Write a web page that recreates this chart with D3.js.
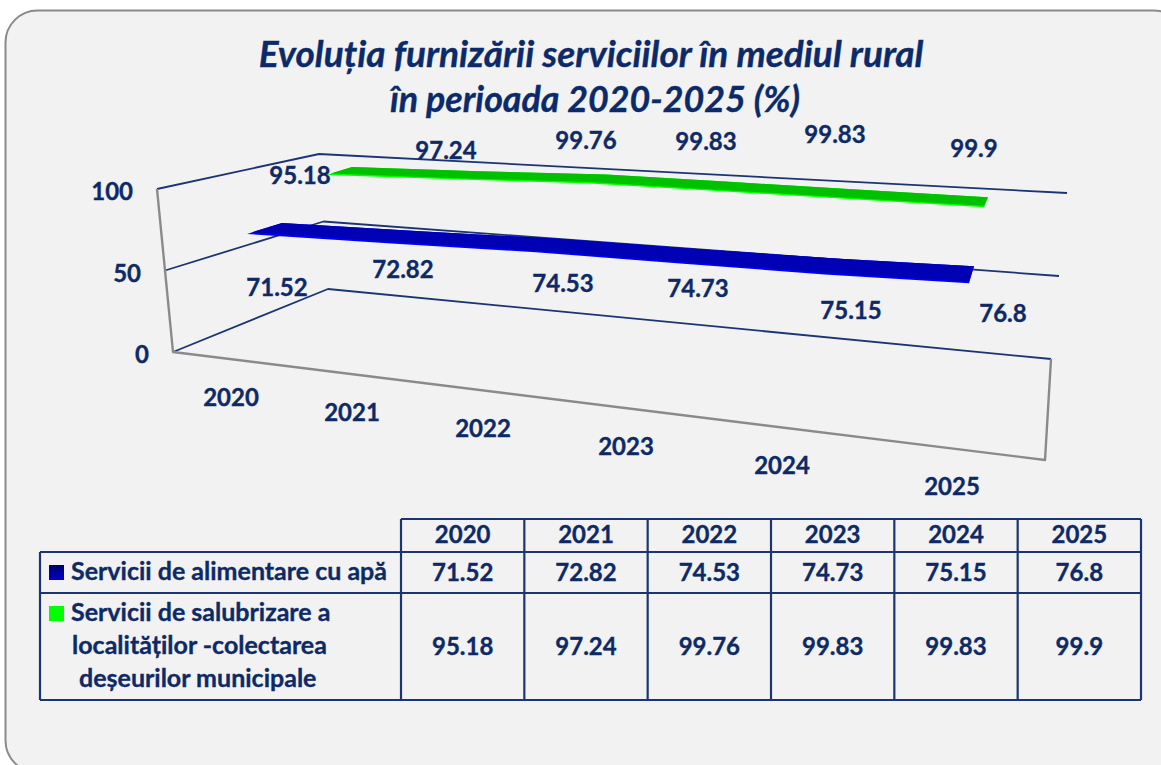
<!DOCTYPE html>
<html><head><meta charset="utf-8">
<script src="https://cdn.jsdelivr.net/npm/d3@7"></script>
<style>html,body{margin:0;padding:0;background:#fff;overflow:hidden}svg{display:block}text{font-family:Lato,"Open Sans",sans-serif;font-weight:700;fill:#0E2A66;stroke:#0E2A66;stroke-width:.35px}</style>
</head><body><svg id="c" width="1161" height="765"></svg>
<script>
// data
const categories = ["2020","2021","2022","2023","2024","2025"];
const seriesNames = ["Servicii de alimentare cu apă","Servicii de salubrizare a localităților -colectarea deșeurilor municipale"];
const waterValues = [71.52,72.82,74.53,74.73,75.15,76.8];
const wasteValues = [95.18,97.24,99.76,99.83,99.83,99.9];
const valueTicks = [0,50,100];
const titleLines = ["Evoluția furnizării serviciilor în mediul rural","în perioada 2020-2025 (%)"];
const wasteLabelLines = ["Servicii de salubrizare a","localităților -colectarea","deșeurilor municipale"];

// layout
const svg = d3.select("#c");
const NAVY = "#1B3572", GREY = "#8A8A8A", FS = 24, FSL = 25;
const idx = categories.map((_, i) => i);
const pct = d3.scaleLinear().domain([0,100]);

svg.append("rect").attr("x",5.5).attr("y",10.5).attr("width",1180).attr("height",762).attr("rx",32)
  .attr("fill","#F2F2F2").attr("stroke",GREY).attr("stroke-width",2);

// title
svg.selectAll("text.title").data(titleLines).join("text").attr("class","title")
  .attr("x",(d,i)=>[591,595][i]).attr("y",(d,i)=>[67,112][i]).attr("text-anchor","middle")
  .style("font-size",(d,i)=>[37,35.8][i]+"px").style("font-style","italic").style("fill","#0B2A6B").text(d=>d);

// box corners as scales of the value
const frontLeftX = pct.copy().range([173,157]), frontLeftY = pct.copy().range([352,189]);
const backLeftX = pct.copy().range([328,319]), backLeftY = pct.copy().range([289,154]);
const backRightX = pct.copy().range([1051,1067]), backRightY = pct.copy().range([359,193]);
const path = d3.line();

const g = svg.append("g").attr("fill","none").attr("stroke-linejoin","round");
g.selectAll("path.wall").data(valueTicks).join("path").attr("class","wall")
  .attr("stroke",NAVY).attr("stroke-width",1.8)
  .attr("d",v=>path([[frontLeftX(v),frontLeftY(v)],[backLeftX(v),backLeftY(v)],[backRightX(v),backRightY(v)]]));
g.append("path").attr("stroke",GREY).attr("stroke-width",2.4)
  .attr("d",path([[frontLeftX(100),frontLeftY(100)],[frontLeftX(0),frontLeftY(0)],[1045,460],[backRightX(0),backRightY(0)]]));

svg.selectAll("text.ytick").data(valueTicks).join("text").attr("class","ytick")
  .attr("x",v=>frontLeftX(v)-24).attr("y",v=>frontLeftY(v)+11).attr("text-anchor","end")
  .style("font-size",FS+"px").text(d=>d);

// category labels along the floor (perspective spacing)
const catX = d3.scaleLinear().domain(idx).range([231,352,483,626,782,952]);
const catY = d3.scaleLinear().domain(idx).range([406,421,437,455,474,495]);
svg.selectAll("text.cat").data(categories).join("text").attr("class","cat")
  .attr("x",(d,i)=>catX(i)).attr("y",(d,i)=>catY(i)).attr("text-anchor","middle")
  .style("font-size",FS+"px").text(d=>d);

// ribbons
const ribbons = [
 {values:waterValues, dark:"#0000B4", light:"#0000FF",
  x:[247,969], base:[352,410], back:[[35,-11],[5,-17]], edge:1.6,
  lx:[277,403,563,698,851,1003], ly:[296,278,292,297,319,322]},
 {values:wasteValues, dark:"#00C000", light:"#00FF00",
  x:[327,984], base:[332,372], back:[[25,-8],[4,-10]], edge:1.4,
  lx:[300,446,586,706,835,974], ly:[184,159,149,150,143,157]}
];
const unit = 1.65;
ribbons.forEach(r=>{
  const x = d3.scaleLinear().domain([0,5]).range(r.x);
  const y0 = d3.scaleLinear().domain([0,5]).range(r.base);
  const h = d3.scaleLinear().domain([0,100]).range([0,100*unit]);
  const dx = d3.scaleLinear().domain([0,5]).range([r.back[0][0],r.back[1][0]]);
  const dy = d3.scaleLinear().domain([0,5]).range([r.back[0][1],r.back[1][1]]);
  const front = r.values.map((v,i)=>[x(i),y0(i)-h(v)]);
  const back = r.values.map((v,i)=>[x(i)+dx(i),y0(i)-h(v)+dy(i)]);
  svg.append("path").attr("d",path(front.concat(back.slice().reverse()))+"Z").attr("fill",r.light);
  const inner = front.map((p,i)=>[p[0]+(i?0:r.edge*2.5),p[1]-r.edge]);
  svg.append("path").attr("d",path(inner.concat(back.slice().reverse()))+"Z").attr("fill",r.dark);
  svg.selectAll(null).data(r.values).join("text").attr("x",(d,i)=>r.lx[i]).attr("y",(d,i)=>r.ly[i])
    .attr("text-anchor","middle").style("font-size",FS+"px").text(d=>d);
});

// table
const col = d3.scaleBand().domain(categories).range([401,1141]);
const rows = [519,552,593,700];
const T = svg.append("g").attr("stroke",NAVY).attr("stroke-width",2.2).attr("fill","none");
T.append("path").attr("d",path([[401,rows[0]],[1141,rows[0]]]));
rows.slice(1).forEach(y=>T.append("path").attr("d",path([[40,y],[1141,y]])));
T.append("path").attr("d",path([[40,rows[1]],[40,rows[3]]]));
categories.forEach(c=>T.append("path").attr("d",path([[col(c),rows[0]],[col(c),rows[3]]])));
T.append("path").attr("d",path([[1141,rows[0]],[1141,rows[3]]]));

const cx = c=>col(c)+col.bandwidth()/2;
[[categories,543],[waterValues,581],[wasteValues,655]].forEach(([arr,y])=>{
  svg.selectAll(null).data(arr).join("text").attr("x",(d,i)=>cx(categories[i])).attr("y",y)
    .attr("text-anchor","middle").style("font-size",FS+"px").text(d=>d);
});
svg.append("text").attr("x",71).attr("y",580).style("font-size",FSL+"px").text(seriesNames[0]);
svg.selectAll("text.wl").data(wasteLabelLines).join("text").attr("class","wl")
  .attr("x",(d,i)=>[71,72,79][i]).attr("y",(d,i)=>[621,654,687][i]).style("font-size",FSL+"px").text(d=>d);

const defs = svg.append("defs");
const lg = defs.append("linearGradient").attr("id","sw").attr("x1",0).attr("y1",0).attr("x2",0).attr("y2",1);
lg.append("stop").attr("offset",0).attr("stop-color","#00006E");
lg.append("stop").attr("offset",1).attr("stop-color","#0000C8");
svg.append("rect").attr("x",49).attr("y",565).attr("width",15).attr("height",15).attr("fill","url(#sw)");
svg.append("rect").attr("x",49).attr("y",606).attr("width",15).attr("height",15).attr("fill","#00FF00");
</script></body></html>
